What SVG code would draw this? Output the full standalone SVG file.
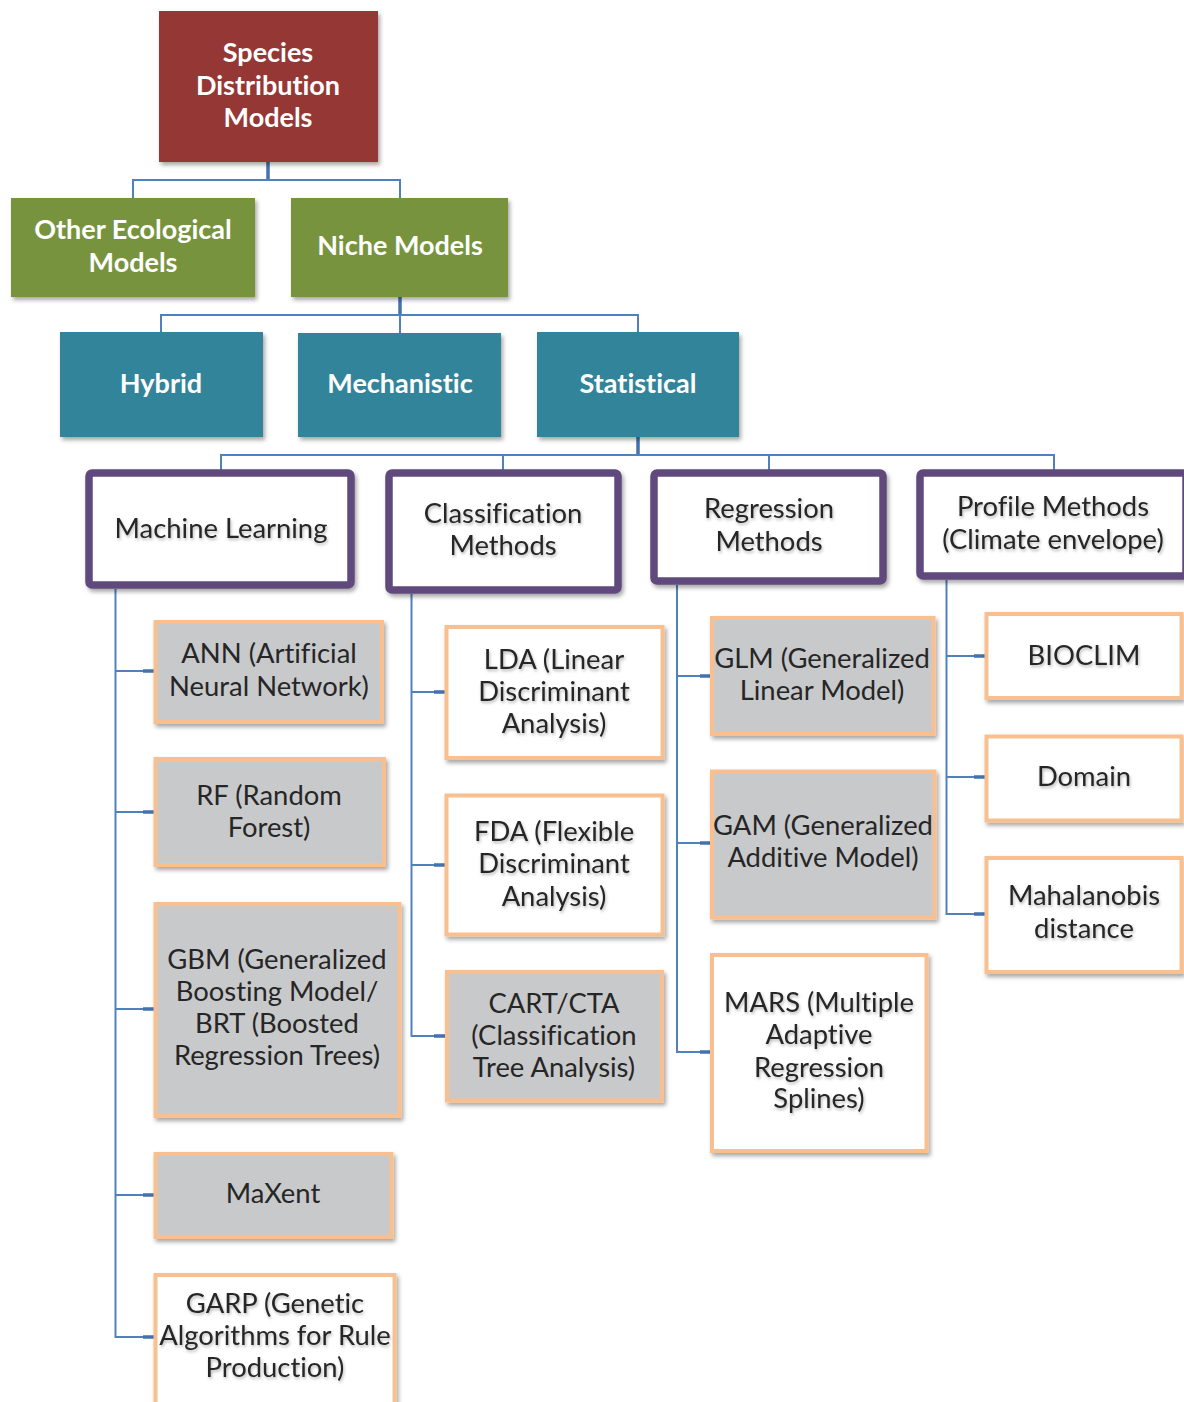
<svg xmlns="http://www.w3.org/2000/svg" width="1184" height="1402" viewBox="0 0 1184 1402">
<defs>
<filter id="sh" x="-10%" y="-10%" width="130%" height="130%">
<feDropShadow dx="2" dy="3" stdDeviation="2" flood-color="#000" flood-opacity="0.35"/>
</filter>
<filter id="ts" x="-10%" y="-30%" width="120%" height="160%">
<feDropShadow dx="1" dy="2" stdDeviation="1.5" flood-color="#000" flood-opacity="0.28"/>
</filter>
</defs>
<style>
.bt{font-family:Lato,"Open Sans","Liberation Sans",sans-serif;font-weight:bold;font-size:27px;fill:#fff;text-anchor:middle;font-variant-ligatures:none}
.t{font-family:Lato,"Open Sans","Liberation Sans",sans-serif;font-size:27.4px;fill:#262626;text-anchor:middle;font-variant-ligatures:none}
.red{fill:#953735}
.grn{fill:#77933C}
.teal{fill:#31849B}
.pur{fill:#fff;stroke:#604A7B;stroke-width:7.5}
.og{fill:#C8C9CB;stroke:#F9BF8F;stroke-width:4}
.ow{fill:#fff;stroke:#F9BF8F;stroke-width:4}
.c{fill:none;stroke:#4F81BD;stroke-width:2}
.cs{fill:none;stroke:#4372AE;stroke-width:3.5}
</style>
<g id="connectors">
<path class="cs" d="M268 162V180"/>
<path class="c" d="M133 198V180H400V198"/>
<path class="cs" d="M400 297V315"/>
<path class="c" d="M161 332V315H638V332M400 315V333"/>
<path class="cs" d="M638 437V455"/>
<path class="c" d="M221 470V455H1054V470M503 455V470M769 455V470"/>
<path class="c" d="M115.5 589V1337H153M115.5 671H153M115.5 812H153M115.5 1009H153M115.5 1195H153"/>
<path class="cs" d="M143 671H154M143 812H154M143 1009H154M143 1195H154M143 1337H154"/>
<path class="c" d="M411.5 594V1036H444M411.5 692H444M411.5 865H444"/>
<path class="cs" d="M434 692H445M434 865H445M434 1036H445"/>
<path class="c" d="M677 585V1052H710M677 676H710M677 843H710"/>
<path class="cs" d="M700 676H711M700 843H711M700 1052H711"/>
<path class="c" d="M946.5 580V914H984M946.5 656H984M946.5 777H984"/>
<path class="cs" d="M974 656H985M974 777H985M974 914H985"/>
</g>
<g id="sdm">
<rect class="red" x="159" y="11" width="219" height="151" filter="url(#sh)"/>
<text class="bt" x="268" y="62">Species</text>
<text class="bt" x="268" y="95">Distribution</text>
<text class="bt" x="268" y="127">Models</text>
</g>
<g id="other">
<rect class="grn" x="11" y="198" width="244" height="99" filter="url(#sh)"/>
<text class="bt" x="133" y="239">Other Ecological</text>
<text class="bt" x="133" y="272">Models</text>
</g>
<g id="niche">
<rect class="grn" x="291" y="198" width="217" height="99" filter="url(#sh)"/>
<text class="bt" x="400" y="255">Niche Models</text>
</g>
<g id="hybrid">
<rect class="teal" x="60" y="332" width="203" height="105" filter="url(#sh)"/>
<text class="bt" x="161" y="393">Hybrid</text>
</g>
<g id="mechanistic">
<rect class="teal" x="298" y="333" width="203" height="104" filter="url(#sh)"/>
<text class="bt" x="400" y="393">Mechanistic</text>
</g>
<g id="statistical">
<rect class="teal" x="537" y="332" width="202" height="105" filter="url(#sh)"/>
<text class="bt" x="638" y="393">Statistical</text>
</g>
<g id="ml">
<rect class="pur" x="89" y="473" width="262" height="112" rx="3" filter="url(#sh)"/>
<text class="t" x="221" y="538" filter="url(#ts)">Machine Learning</text>
</g>
<g id="classification">
<rect class="pur" x="389" y="473" width="229" height="117" rx="3" filter="url(#sh)"/>
<text class="t" x="503" y="523" filter="url(#ts)">Classification</text>
<text class="t" x="503" y="555" filter="url(#ts)">Methods</text>
</g>
<g id="regression">
<rect class="pur" x="654" y="473" width="229" height="108" rx="3" filter="url(#sh)"/>
<text class="t" x="769" y="518" filter="url(#ts)">Regression</text>
<text class="t" x="769" y="551" filter="url(#ts)">Methods</text>
</g>
<g id="profile">
<rect class="pur" x="920" y="473" width="266" height="103" rx="3" filter="url(#sh)"/>
<text class="t" x="1053" y="516" filter="url(#ts)">Profile Methods</text>
<text class="t" x="1053" y="549" filter="url(#ts)">(Climate envelope)</text>
</g>
<g id="ann">
<rect class="og" x="155.5" y="622" width="226.5" height="100" filter="url(#sh)"/>
<text class="t" x="269" y="663">ANN (Artificial</text>
<text class="t" x="269" y="696">Neural Network)</text>
</g>
<g id="rf">
<rect class="og" x="155.5" y="759" width="228.5" height="106" filter="url(#sh)"/>
<text class="t" x="269" y="805">RF (Random</text>
<text class="t" x="269" y="837">Forest)</text>
</g>
<g id="gbm">
<rect class="og" x="155.5" y="904" width="244" height="212" filter="url(#sh)"/>
<text class="t" x="277" y="969">GBM (Generalized</text>
<text class="t" x="277" y="1001">Boosting Model/</text>
<text class="t" x="277" y="1033">BRT (Boosted</text>
<text class="t" x="277" y="1065">Regression Trees)</text>
</g>
<g id="maxent">
<rect class="og" x="155.5" y="1154" width="236" height="83" filter="url(#sh)"/>
<text class="t" x="273" y="1203">MaXent</text>
</g>
<g id="garp">
<rect class="ow" x="155.5" y="1275" width="239" height="140" filter="url(#sh)"/>
<text class="t" x="275" y="1313" filter="url(#ts)">GARP (Genetic</text>
<text class="t" x="275" y="1345" filter="url(#ts)">Algorithms for Rule</text>
<text class="t" x="275" y="1377" filter="url(#ts)">Production)</text>
</g>
<g id="lda">
<rect class="ow" x="446.5" y="627" width="216" height="131" filter="url(#sh)"/>
<text class="t" x="554" y="669" filter="url(#ts)">LDA (Linear</text>
<text class="t" x="554" y="701" filter="url(#ts)">Discriminant</text>
<text class="t" x="554" y="733" filter="url(#ts)">Analysis)</text>
</g>
<g id="fda">
<rect class="ow" x="446.5" y="795.5" width="216" height="139" filter="url(#sh)"/>
<text class="t" x="554" y="841" filter="url(#ts)">FDA (Flexible</text>
<text class="t" x="554" y="873" filter="url(#ts)">Discriminant</text>
<text class="t" x="554" y="906" filter="url(#ts)">Analysis)</text>
</g>
<g id="cart">
<rect class="og" x="447" y="972" width="215" height="128.5" filter="url(#sh)"/>
<text class="t" x="554" y="1013">CART/CTA</text>
<text class="t" x="554" y="1045">(Classification</text>
<text class="t" x="554" y="1077">Tree Analysis)</text>
</g>
<g id="glm">
<rect class="og" x="712" y="618" width="221.5" height="116" filter="url(#sh)"/>
<text class="t" x="822" y="668">GLM (Generalized</text>
<text class="t" x="822" y="700">Linear Model)</text>
</g>
<g id="gam">
<rect class="og" x="712" y="771.5" width="222.5" height="146" filter="url(#sh)"/>
<text class="t" x="823" y="835">GAM (Generalized</text>
<text class="t" x="823" y="867">Additive Model)</text>
</g>
<g id="mars">
<rect class="ow" x="712" y="955" width="214.5" height="196" filter="url(#sh)"/>
<text class="t" x="819" y="1012" filter="url(#ts)">MARS (Multiple</text>
<text class="t" x="819" y="1044" filter="url(#ts)">Adaptive</text>
<text class="t" x="819" y="1077" filter="url(#ts)">Regression</text>
<text class="t" x="819" y="1108" filter="url(#ts)">Splines)</text>
</g>
<g id="bioclim">
<rect class="ow" x="986.5" y="614" width="195" height="84" filter="url(#sh)"/>
<text class="t" x="1084" y="665" filter="url(#ts)">BIOCLIM</text>
</g>
<g id="domain">
<rect class="ow" x="986.5" y="736.5" width="195" height="84" filter="url(#sh)"/>
<text class="t" x="1084" y="786" filter="url(#ts)">Domain</text>
</g>
<g id="mahalanobis">
<rect class="ow" x="986.5" y="858" width="195" height="114" filter="url(#sh)"/>
<text class="t" x="1084" y="905" filter="url(#ts)">Mahalanobis</text>
<text class="t" x="1084" y="938" filter="url(#ts)">distance</text>
</g>
</svg>
